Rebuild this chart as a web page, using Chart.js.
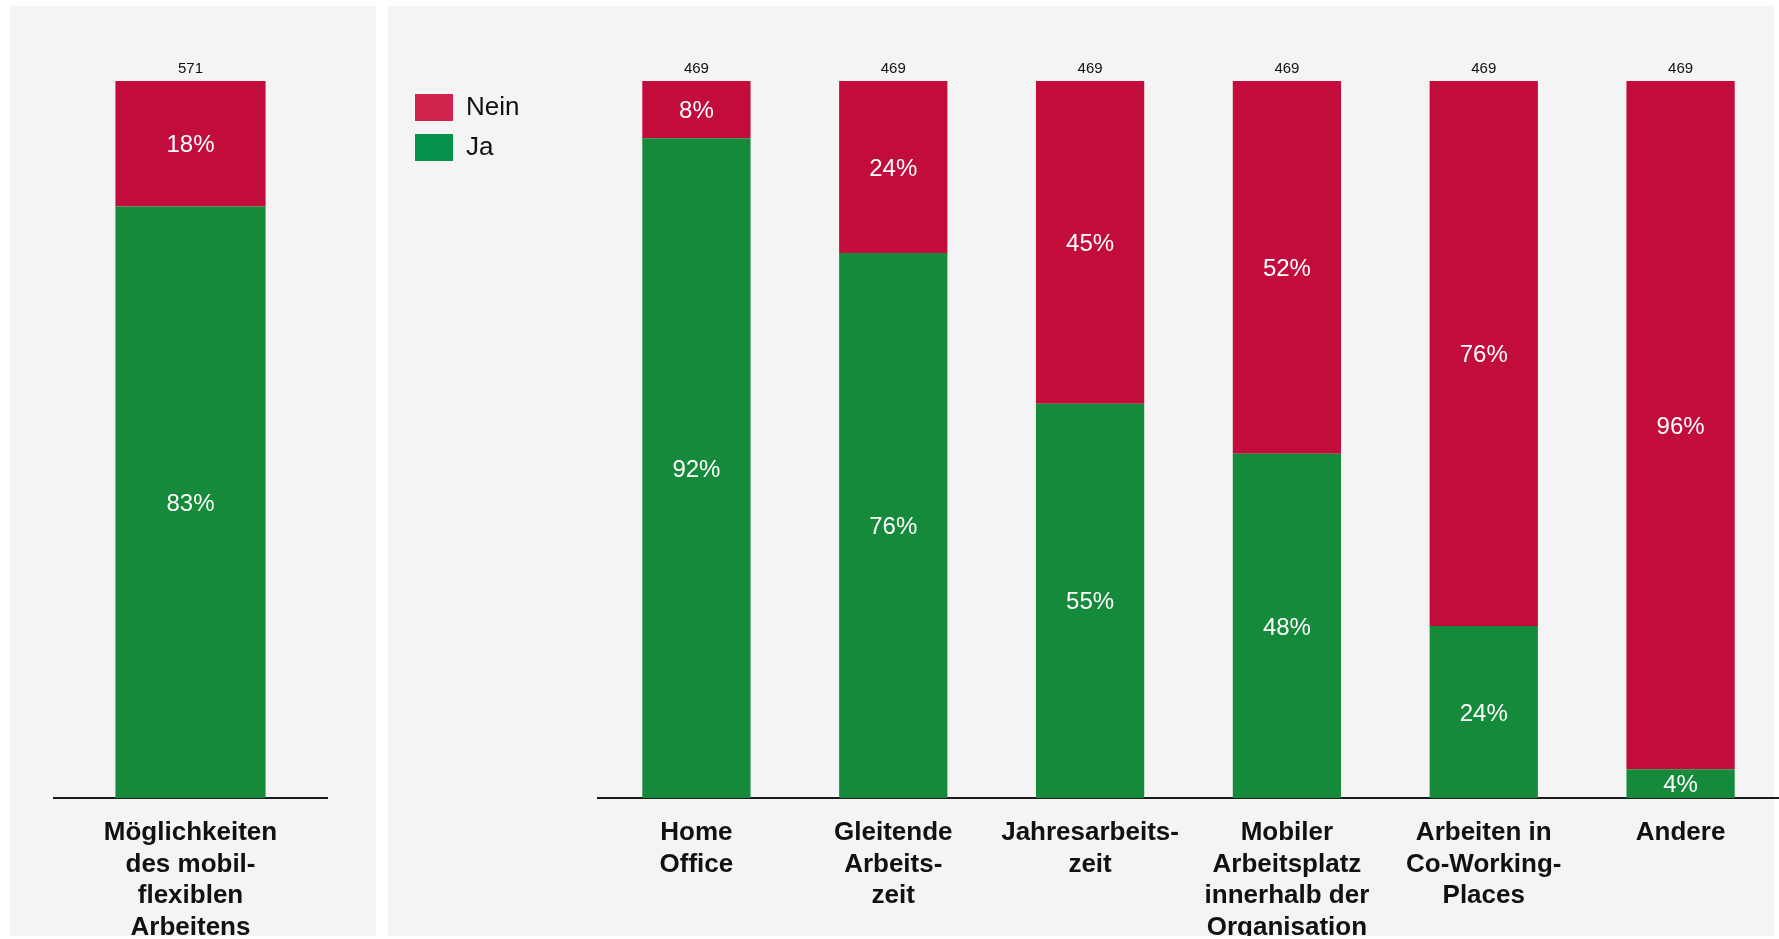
<!DOCTYPE html>
<html>
<head>
<meta charset="utf-8">
<script src="https://cdn.jsdelivr.net/npm/chart.js@4.4.1/dist/chart.umd.min.js"></script>
<style>
  html, body { margin: 0; padding: 0; background: #fff; width: 1779px; height: 939px; overflow: hidden; }
  .panel { position: absolute; background: #f4f4f4; }
  canvas { position: absolute; top: 0; }
</style>
</head>
<body>
<div class="panel" style="left:10px; top:6px; width:366px; height:930px;"></div>
<div class="panel" style="left:388px; top:6px; width:1386px; height:930px;"></div>
<canvas id="chartLeft" width="366" height="936" style="left:10px;"></canvas>
<canvas id="chartRight" width="1391" height="936" style="left:388px;"></canvas>
<script>
// ---- data ----
const leftCategories = [['Möglichkeiten', 'des mobil-', 'flexiblen', 'Arbeitens']];
const leftJa = [82.5];
const leftNein = [17.5];
const leftTotals = [571];

const rightCategories = [
  ['Home', 'Office'],
  ['Gleitende', 'Arbeits-', 'zeit'],
  ['Jahresarbeits-', 'zeit'],
  ['Mobiler', 'Arbeitsplatz', 'innerhalb der', 'Organisation'],
  ['Arbeiten in', 'Co-Working-', 'Places'],
  ['Andere']
];
const rightJa = [92, 76, 55, 48, 24, 4];
const rightNein = [8, 24, 45, 52, 76, 96];
const rightTotals = [469, 469, 469, 469, 469, 469];

const FONT = "'Liberation Sans', Arial, sans-serif";
const RED = '#c20c3c';
const GREEN = '#168a3b';
const LEGEND_COLORS = { Nein: '#d2234f', Ja: '#05924a' };

// ---- labels inside segments + totals above bars ----
const segmentLabels = {
  id: 'segmentLabels',
  afterDatasetsDraw(chart) {
    const { ctx } = chart;
    const opts = chart.options.plugins.segmentLabels;
    ctx.save();
    ctx.font = '24px ' + FONT;
    ctx.fillStyle = '#fff';
    ctx.textAlign = 'center';
    ctx.textBaseline = 'middle';
    chart.data.datasets.forEach((ds, di) => {
      chart.getDatasetMeta(di).data.forEach((bar, i) => {
        // small nudge so the digits sit visually centred in the segment
        ctx.fillText(Math.round(ds.data[i]) + '%', bar.x, (bar.y + bar.base) / 2 + 2);
      });
    });
    const topBars = chart.getDatasetMeta(chart.data.datasets.length - 1).data;
    ctx.font = '15px ' + FONT;
    ctx.fillStyle = '#111';
    ctx.textBaseline = 'alphabetic';
    topBars.forEach((bar, i) => ctx.fillText(opts.totals[i], bar.x, bar.y - 8));
    ctx.restore();
  }
};

function makeDatasets(ja, nein) {
  const common = { barPercentage: 0.55, categoryPercentage: 1, borderWidth: 0 };
  return [
    { label: 'Ja', data: ja, backgroundColor: GREEN, ...common },
    { label: 'Nein', data: nein, backgroundColor: RED, ...common }
  ];
}

function xScale() {
  return {
    stacked: true,
    grid: { display: false, drawTicks: false },
    border: { display: true, color: '#1a1a1a', width: 2 },
    ticks: {
      color: '#111',
      padding: 19,
      maxRotation: 0,
      autoSkip: false,
      font: { family: FONT, size: 26, weight: 'bold', lineHeight: 1.22 }
    },
    afterFit(scale) { scale.height = 138; }
  };
}

// ---- left chart ----
new Chart(document.getElementById('chartLeft'), {
  type: 'bar',
  data: { labels: leftCategories, datasets: makeDatasets(leftJa, leftNein) },
  plugins: [segmentLabels],
  options: {
    responsive: false,
    animation: false,
    layout: { padding: { top: 81, left: 44, right: 49, bottom: 0 } },
    scales: {
      x: xScale(),
      y: { stacked: true, min: 0, max: 100, display: false }
    },
    plugins: {
      legend: { display: false },
      tooltip: { enabled: false },
      segmentLabels: { totals: leftTotals }
    }
  }
});

// ---- right chart ----
new Chart(document.getElementById('chartRight'), {
  type: 'bar',
  data: { labels: rightCategories, datasets: makeDatasets(rightJa, rightNein) },
  plugins: [segmentLabels],
  options: {
    responsive: false,
    animation: false,
    layout: { padding: { top: 81, left: 14, right: 0, bottom: 0 } },
    scales: {
      x: xScale(),
      y: {
        stacked: true, min: 0, max: 100,
        grid: { display: false, drawTicks: false },
        border: { display: false },
        ticks: { display: false },
        afterFit(scale) {
          const lw = (scale.chart.legend && scale.chart.legend.width) || 117;
          scale.width = 210 - 14 - lw;
        }
      }
    },
    plugins: {
      legend: {
        display: true,
        position: 'left',
        align: 'start',
        reverse: true,
        labels: {
          boxWidth: 38,
          boxHeight: 27,
          padding: 13,
          color: '#111',
          font: { family: FONT, size: 26 },
          generateLabels(chart) {
            return chart.data.datasets.map((ds, i) => ({
              text: ds.label,
              fillStyle: LEGEND_COLORS[ds.label],
              strokeStyle: LEGEND_COLORS[ds.label],
              lineWidth: 0,
              fontColor: '#111',
              hidden: false,
              datasetIndex: i
            }));
          }
        }
      },
      tooltip: { enabled: false },
      segmentLabels: { totals: rightTotals }
    }
  }
});
</script>
</body>
</html>
